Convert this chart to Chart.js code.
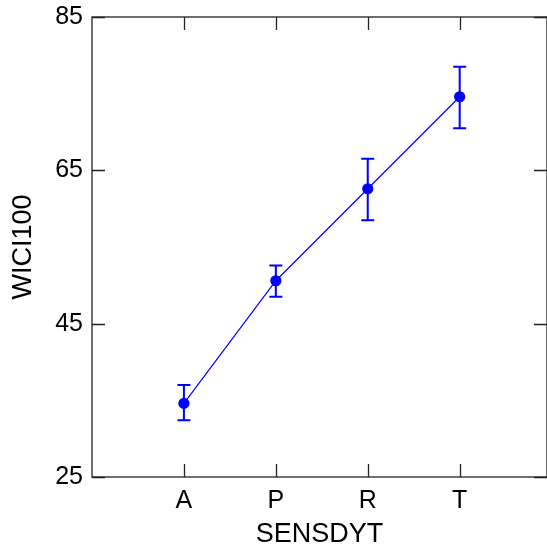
<!DOCTYPE html>
<html>
<head>
<meta charset="utf-8">
<script src="https://cdn.jsdelivr.net/npm/chart.js@4"></script>
<style>
  html, body { margin: 0; padding: 0; background: #fff; overflow: hidden; }
  #wrap { width: 547px; height: 550px; }
</style>
</head>
<body>
<div id="wrap"><canvas id="wiciChart"></canvas></div>
<script>
const categories = ["A", "P", "R", "T"];
const means = [34.6, 50.6, 62.6, 74.6];
const lowerBars = [32.4, 48.5, 58.5, 70.5];
const upperBars = [37.0, 52.6, 66.5, 78.5];
const yTicks = [25, 45, 65, 85];

const blue = "#0000ff";
const font = { family: "'Liberation Sans', Arial, sans-serif", size: 25 };
const titleFont = { family: "'Liberation Sans', Arial, sans-serif", size: 27, lineHeight: 1 };

// error bars + inward ticks + frame
const extras = {
    id: "extras",
    afterDatasetsDraw(chart) {
        const ctx = chart.ctx;
        const x = chart.scales.x, y = chart.scales.y;
        const a = chart.chartArea;
        ctx.save();

        ctx.strokeStyle = blue;
        ctx.lineWidth = 2;
        means.forEach((m, i) => {
            const px = x.getPixelForValue(i + 1);
            const top = y.getPixelForValue(upperBars[i]);
            const bot = y.getPixelForValue(lowerBars[i]);
            ctx.beginPath();
            ctx.moveTo(px, top); ctx.lineTo(px, bot);
            ctx.moveTo(px - 6.5, top); ctx.lineTo(px + 6.5, top);
            ctx.moveTo(px - 6.5, bot); ctx.lineTo(px + 6.5, bot);
            ctx.stroke();
        });

        ctx.strokeStyle = "#222";
        ctx.lineWidth = 1.3;
        ctx.strokeRect(a.left, a.top, a.right - a.left, a.bottom - a.top);
        const tl = 13;
        ctx.beginPath();
        yTicks.forEach(v => {
            const py = Math.round(y.getPixelForValue(v)) + 0.5;
            ctx.moveTo(a.left, py); ctx.lineTo(a.left + tl, py);
            ctx.moveTo(a.right, py); ctx.lineTo(a.right - tl, py);
        });
        categories.forEach((c, i) => {
            const px = Math.round(x.getPixelForValue(i + 1)) + 0.5;
            ctx.moveTo(px, a.bottom); ctx.lineTo(px, a.bottom - tl);
            ctx.moveTo(px, a.top); ctx.lineTo(px, a.top + tl);
        });
        ctx.stroke();
        ctx.restore();
    }
};

new Chart(document.getElementById("wiciChart"), {
    type: "line",
    data: {
        datasets: [{
            data: means.map((m, i) => ({ x: i + 1, y: m })),
            borderColor: blue,
            backgroundColor: blue,
            borderWidth: 1.2,
            pointRadius: 5,
            pointBackgroundColor: blue,
            pointBorderColor: blue,
            tension: 0
        }]
    },
    options: {
        responsive: true,
        maintainAspectRatio: false,
        animation: false,
        layout: { autoPadding: false, padding: { top: 17, right: 0, left: 0, bottom: 0 } },
        plugins: { legend: { display: false }, tooltip: { enabled: false } },
        scales: {
            x: {
                type: "linear",
                min: 0,
                max: 4.95,
                grid: { display: false, drawTicks: false },
                border: { display: false },
                afterBuildTicks(s) { s.ticks = categories.map((c, i) => ({ value: i + 1 })); },
                afterFit(s) { s.height = 73; s.paddingLeft = 0; s.paddingRight = 0; },
                ticks: {
                    color: "#000",
                    font: font,
                    padding: 9,
                    autoSkip: false,
                    maxRotation: 0,
                    callback: v => categories[v - 1]
                },
                title: { display: true, text: "SENSDYT", color: "#000", font: titleFont, padding: { top: 0, bottom: 2 } }
            },
            y: {
                min: 25,
                max: 85,
                grid: { display: false, drawTicks: false },
                border: { display: false },
                afterBuildTicks(s) { s.ticks = yTicks.map(v => ({ value: v })); },
                afterFit(s) { s.width = 92; s.paddingTop = 0; s.paddingBottom = 0; },
                ticks: { color: "#000", font: font, padding: 9 },
                title: { display: true, text: "WICI100", color: "#000", font: titleFont, padding: { top: 10, bottom: 0 } }
            }
        }
    },
    plugins: [extras]
});
</script>
</body>
</html>
